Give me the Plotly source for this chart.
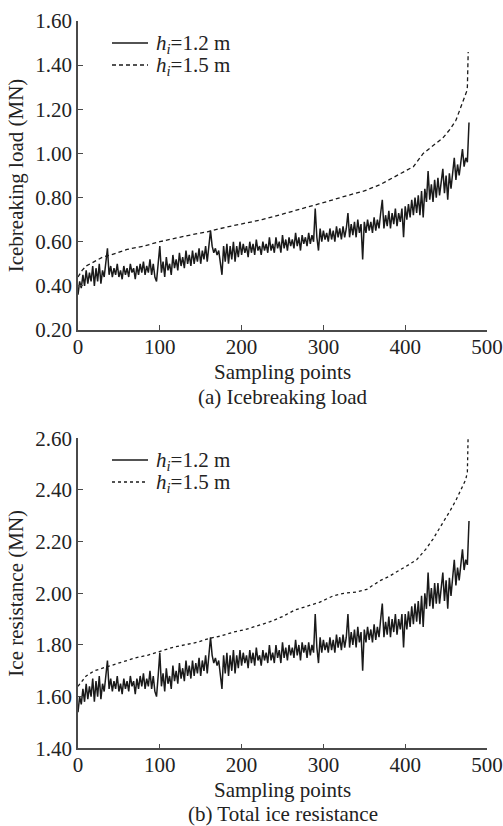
import plotly.graph_objects as go

# ---------------- data ----------------
samples_12 = list(range(0, 479, 2))

load_12 = [
    0.36, 0.42, 0.39, 0.45, 0.40, 0.47, 0.41, 0.46, 0.42, 0.49, 0.40, 0.48, 0.42, 0.50, 0.41, 0.47, 0.44, 0.50, 0.57, 0.45,
    0.49, 0.44, 0.48, 0.45, 0.50, 0.44, 0.47, 0.43, 0.49, 0.45, 0.48, 0.44, 0.50, 0.46, 0.48, 0.43, 0.49, 0.45, 0.50, 0.46,
    0.51, 0.45, 0.49, 0.46, 0.52, 0.45, 0.50, 0.44, 0.42, 0.50, 0.58, 0.46, 0.51, 0.44, 0.53, 0.47, 0.50, 0.45, 0.54, 0.48,
    0.52, 0.47, 0.55, 0.49, 0.53, 0.48, 0.56, 0.50, 0.54, 0.49, 0.56, 0.50, 0.55, 0.51, 0.57, 0.50, 0.56, 0.52, 0.58, 0.51,
    0.57, 0.65, 0.58, 0.55, 0.57, 0.54, 0.56, 0.50, 0.45, 0.58, 0.51, 0.59, 0.50, 0.58, 0.52, 0.60, 0.51, 0.58, 0.53, 0.60,
    0.54, 0.59, 0.55, 0.58, 0.53, 0.60, 0.55, 0.59, 0.54, 0.61, 0.56, 0.58, 0.54, 0.60, 0.56, 0.59, 0.55, 0.62, 0.56, 0.59,
    0.55, 0.62, 0.57, 0.60, 0.55, 0.63, 0.57, 0.61, 0.56, 0.62, 0.58, 0.61, 0.57, 0.64, 0.58, 0.62, 0.56, 0.63, 0.59, 0.62,
    0.58, 0.64, 0.59, 0.63, 0.60, 0.75, 0.62, 0.56, 0.66, 0.60, 0.65, 0.61, 0.64, 0.60, 0.66, 0.61, 0.65, 0.60, 0.67, 0.62,
    0.66, 0.61, 0.67, 0.62, 0.66, 0.73, 0.62, 0.68, 0.63, 0.69, 0.62, 0.70, 0.64, 0.68, 0.52, 0.69, 0.64, 0.70, 0.65, 0.69,
    0.64, 0.71, 0.65, 0.70, 0.66, 0.73, 0.79, 0.66, 0.72, 0.67, 0.74, 0.66, 0.73, 0.68, 0.75, 0.67, 0.73, 0.69, 0.75, 0.62,
    0.76, 0.70, 0.77, 0.71, 0.79, 0.72, 0.80, 0.73, 0.81, 0.72, 0.83, 0.71, 0.84, 0.78, 0.92, 0.79, 0.86, 0.78, 0.88, 0.80,
    0.89, 0.81, 0.86, 0.93, 0.82, 0.90, 0.79, 0.91, 0.84, 0.92, 0.98, 0.88, 0.95, 0.90, 0.97, 1.02, 0.94, 0.98, 0.96, 1.14,
]

res_12 = [
    1.54, 1.60, 1.57, 1.63, 1.58, 1.65, 1.59, 1.64, 1.60, 1.67, 1.58, 1.66, 1.60, 1.68, 1.59, 1.65, 1.62, 1.68, 1.74, 1.63,
    1.67, 1.62, 1.66, 1.63, 1.68, 1.62, 1.65, 1.61, 1.67, 1.63, 1.66, 1.62, 1.68, 1.64, 1.66, 1.61, 1.67, 1.63, 1.68, 1.64,
    1.69, 1.63, 1.67, 1.64, 1.70, 1.63, 1.68, 1.62, 1.60, 1.68, 1.77, 1.64, 1.69, 1.62, 1.71, 1.65, 1.68, 1.63, 1.72, 1.66,
    1.70, 1.65, 1.73, 1.67, 1.71, 1.66, 1.74, 1.68, 1.72, 1.67, 1.74, 1.68, 1.73, 1.69, 1.75, 1.68, 1.74, 1.70, 1.76, 1.69,
    1.75, 1.83, 1.76, 1.73, 1.75, 1.72, 1.74, 1.68, 1.63, 1.76, 1.69, 1.77, 1.68, 1.76, 1.70, 1.78, 1.69, 1.76, 1.71, 1.78,
    1.72, 1.77, 1.73, 1.76, 1.71, 1.78, 1.73, 1.77, 1.72, 1.79, 1.74, 1.76, 1.72, 1.78, 1.74, 1.77, 1.73, 1.80, 1.74, 1.77,
    1.73, 1.80, 1.75, 1.78, 1.73, 1.81, 1.75, 1.79, 1.74, 1.80, 1.76, 1.79, 1.75, 1.82, 1.76, 1.80, 1.74, 1.81, 1.77, 1.80,
    1.75, 1.81, 1.76, 1.80, 1.77, 1.92, 1.79, 1.73, 1.83, 1.77, 1.82, 1.78, 1.81, 1.77, 1.83, 1.78, 1.82, 1.77, 1.84, 1.79,
    1.83, 1.78, 1.84, 1.79, 1.83, 1.92, 1.79, 1.85, 1.80, 1.86, 1.79, 1.87, 1.81, 1.85, 1.70, 1.86, 1.81, 1.87, 1.82, 1.86,
    1.81, 1.88, 1.82, 1.87, 1.83, 1.90, 1.96, 1.83, 1.89, 1.84, 1.91, 1.83, 1.90, 1.85, 1.92, 1.84, 1.90, 1.86, 1.92, 1.79,
    1.92, 1.86, 1.93, 1.87, 1.95, 1.88, 1.96, 1.89, 1.97, 1.88, 1.99, 1.87, 2.00, 1.94, 2.08, 1.95, 2.02, 1.94, 2.04, 1.96,
    2.04, 1.96, 2.01, 2.08, 1.97, 2.05, 1.94, 2.06, 1.99, 2.07, 2.13, 2.03, 2.10, 2.05, 2.12, 2.17, 2.09, 2.13, 2.11, 2.28,
]

samples_load_15 = [0, 5, 10, 20, 30, 40, 60, 80, 100, 130, 158, 180, 200, 225, 250, 280,
                   312, 330, 350, 370, 394, 410, 422, 435, 446, 455, 462, 467, 472, 475, 476, 477]
load_15 = [0.44, 0.47, 0.49, 0.51, 0.53, 0.54, 0.565, 0.58, 0.60, 0.625, 0.645, 0.665, 0.68, 0.70, 0.725, 0.755,
           0.79, 0.81, 0.83, 0.86, 0.91, 0.94, 1.00, 1.04, 1.07, 1.11, 1.15, 1.20, 1.25, 1.28, 1.30, 1.46]

samples_res_15 = [0, 5, 10, 20, 30, 40, 55, 70, 85, 100, 115, 130, 145, 160, 175, 190, 205, 220,
                  235, 250, 265, 280, 295, 312, 325, 340, 353, 360, 370, 380, 394, 404, 414, 425,
                  434, 446, 455, 462, 467, 471, 474, 476, 477]
res_15 = [1.64, 1.66, 1.68, 1.70, 1.71, 1.72, 1.735, 1.75, 1.76, 1.775, 1.79, 1.80, 1.81, 1.825, 1.835, 1.85,
          1.86, 1.875, 1.89, 1.91, 1.935, 1.95, 1.965, 1.99, 2.00, 2.005, 2.015, 2.03, 2.05, 2.065, 2.09,
          2.11, 2.13, 2.17, 2.21, 2.27, 2.32, 2.36, 2.39, 2.42, 2.44, 2.47, 2.62]

x_ticks = [0, 100, 200, 300, 400, 500]
load_ticks = [0.20, 0.40, 0.60, 0.80, 1.00, 1.20, 1.40, 1.60]
res_ticks = [1.40, 1.60, 1.80, 2.00, 2.20, 2.40, 2.60]

name_12 = "<i>h<sub>i</sub></i>=1.2 m"
name_15 = "<i>h<sub>i</sub></i>=1.5 m"

# ---------------- figure ----------------
FONT = "Liberation Serif"
LINE = "#1a1a1a"
AX = "#4a4a4a"
TXT = "#222222"
W, H = 503, 826
L, R = 78, 16
PW = W - L - R


def yfrac(py):
    return 1 - py / H


def xfrac(px):
    return (px - L) / PW


fig = go.Figure()
fig.add_trace(go.Scatter(x=samples_12, y=load_12, mode="lines", name=name_12,
                         line=dict(color=LINE, width=1.5), xaxis="x", yaxis="y"))
fig.add_trace(go.Scatter(x=samples_load_15, y=load_15, mode="lines", name=name_15,
                         line=dict(color=LINE, width=1.3, dash="4px,3px"), xaxis="x", yaxis="y"))
fig.add_trace(go.Scatter(x=samples_12, y=res_12, mode="lines", name=name_12,
                         line=dict(color=LINE, width=1.5), xaxis="x2", yaxis="y2"))
fig.add_trace(go.Scatter(x=samples_res_15, y=res_15, mode="lines", name=name_15,
                         line=dict(color=LINE, width=1.3, dash="3px,3px"), xaxis="x2", yaxis="y2"))

axis_common = dict(showline=True, linecolor=AX, linewidth=1.6, ticks="inside", ticklen=5,
                   tickwidth=1.3, tickcolor=AX, showgrid=False, zeroline=False, automargin=False,
                   tickfont=dict(family=FONT, size=21, color=TXT))

fig.update_layout(
    width=W, height=H,
    margin=dict(l=L, r=R, t=0, b=0, autoexpand=False),
    paper_bgcolor="white", plot_bgcolor="white",
    font=dict(family=FONT, size=21, color=TXT),
    showlegend=False,
    xaxis=dict(domain=[0, 1], range=[0, 500], tickvals=x_ticks, anchor="y",
               ticklabelstandoff=-3, **axis_common),
    yaxis=dict(domain=[yfrac(330), yfrac(21)], range=[0.2, 1.6], tickvals=load_ticks,
               tickformat=".2f", anchor="x",
               title=dict(text="Icebreaking load (MN)", font=dict(family=FONT, size=21, color=TXT),
                          standoff=6), **axis_common),
    xaxis2=dict(domain=[0, 1], range=[0, 500], tickvals=x_ticks, anchor="y2",
                ticklabelstandoff=-3, **axis_common),
    yaxis2=dict(domain=[yfrac(748.3), yfrac(438.3)], range=[1.4, 2.6], tickvals=res_ticks,
                tickformat=".2f", anchor="x2",
                title=dict(text="Ice resistance (MN)", font=dict(family=FONT, size=21, color=TXT),
                           standoff=6), **axis_common),
)

# captions below each panel
for text, py in [("Sampling points", 372), ("(a) Icebreaking load", 397),
                 ("Sampling points", 790), ("(b) Total ice resistance", 814)]:
    fig.add_annotation(text=text, xref="paper", yref="paper", x=0.5, y=yfrac(py),
                       xanchor="center", yanchor="middle", showarrow=False,
                       font=dict(family=FONT, size=21, color=TXT))

# legends (key line + label) for both panels
for row_y, label, dash in [(43, name_12, "solid"), (65, name_15, "4px,3px"),
                           (460, name_12, "solid"), (482, name_15, "3px,3px")]:
    fig.add_shape(type="line", xref="paper", yref="paper",
                  x0=xfrac(112), x1=xfrac(148), y0=yfrac(row_y), y1=yfrac(row_y),
                  line=dict(color=LINE, width=1.4, dash=dash))
    fig.add_annotation(text=label, xref="paper", yref="paper", x=xfrac(154), y=yfrac(row_y + 1),
                       xanchor="left", yanchor="middle", showarrow=False,
                       font=dict(family=FONT, size=21, color=TXT))

fig.write_html("out.html", config={"displayModeBar": False},
               post_script="document.body.style.margin='0';document.body.style.padding='0';")
